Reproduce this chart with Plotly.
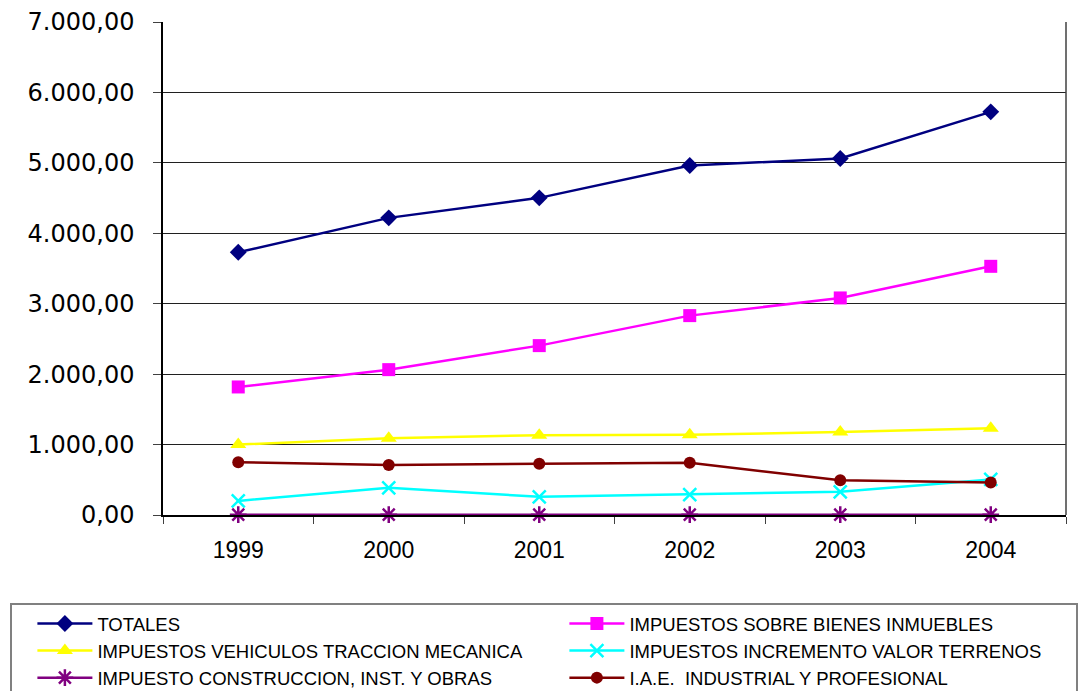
import plotly.graph_objects as go

years = ["1999", "2000", "2001", "2002", "2003", "2004"]
totales = [3730, 4219, 4503, 4962, 5062, 5724]
bienes_inmuebles = [1818, 2064, 2405, 2831, 3082, 3531]
vehiculos = [1000, 1090, 1133, 1138, 1180, 1233]
incremento_terrenos = [200, 386, 258, 290, 330, 505]
construccion = [5, 5, 5, 5, 5, 5]
iae = [750, 710, 727, 741, 494, 463]

series = [
    ("TOTALES", totales, "#000080", "diamond", 13),
    ("IMPUESTOS SOBRE BIENES INMUEBLES", bienes_inmuebles, "#FF00FF", "square", 13),
    ("IMPUESTOS VEHICULOS TRACCION MECANICA", vehiculos, "#FFFF00", "triangle-up", 14),
    ("IMPUESTOS INCREMENTO VALOR TERRENOS", incremento_terrenos, "#00FFFF", "x-thin-open", 13),
    ("IMPUESTO CONSTRUCCION, INST. Y OBRAS", construccion, "#800080", "asterisk-open", 14),
    ("I.A.E.  INDUSTRIAL Y PROFESIONAL", iae, "#800000", "circle", 12),
]

fig = go.Figure()
for name, vals, color, sym, size in series:
    open_sym = sym.endswith("open")
    fig.add_trace(go.Scatter(
        x=years, y=vals, name=name, mode="lines+markers",
        cliponaxis=False,
        line=dict(color=color, width=2.5),
        marker=dict(symbol=sym, size=size, color=color,
                    line=dict(color=color, width=2.5 if open_sym else 0)),
    ))

fig.update_layout(
    width=1080, height=691,
    margin=dict(l=163, r=14, t=22, b=176, autoexpand=False),
    paper_bgcolor="white", plot_bgcolor="white",
    separators=",.",
    showlegend=True,
    legend=dict(
        orientation="h", x=-0.169, xanchor="left", y=-0.1785, yanchor="top",
        entrywidth=442, entrywidthmode="pixels",
        itemwidth=55, indentation=20,
        bordercolor="#808080", borderwidth=2, bgcolor="white",
        font=dict(family="Liberation Sans, Arial", size=18.5, color="black"),
        traceorder="normal",
    ),
    xaxis=dict(
        type="category", range=[-0.5, 5.5], tickson="boundaries",
        ticks="outside", ticklen=7,
        tickcolor="#404040", showline=True, linecolor="black", linewidth=1.5,
        showgrid=False, mirror=False,
        tickfont=dict(family="Liberation Sans, Arial", size=23, color="black"),
        ticklabelstandoff=14,
    ),
    yaxis=dict(
        range=[0, 7000], dtick=1000, tickformat=",.2f",
        ticks="outside", ticklen=8, tickcolor="#404040",
        showline=True, linecolor="black", linewidth=1.5,
        showgrid=True, gridcolor="#202020", gridwidth=1,
        zeroline=False,
        tickfont=dict(family="DejaVu Sans, Verdana", size=24, color="black"),
        ticklabelstandoff=14,
    ),
)

# right border of the plot area
fig.add_shape(type="line", xref="paper", yref="paper", x0=1, x1=1, y0=0, y1=1,
              line=dict(color="#404040", width=1.5))

fig.write_html("out.html")
